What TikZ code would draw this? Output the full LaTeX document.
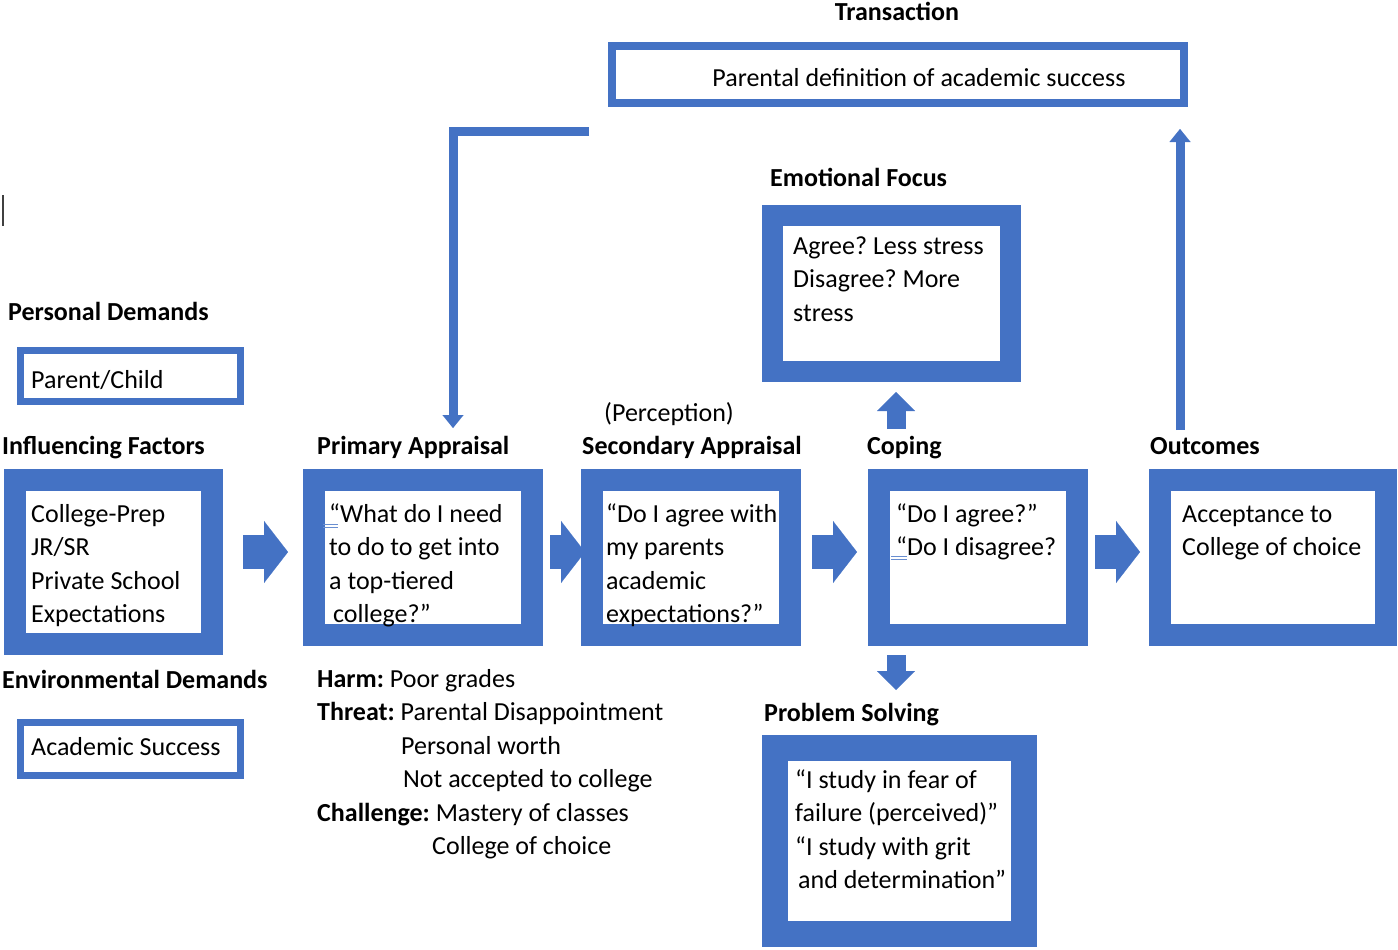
\documentclass[tikz,border=0pt]{standalone}
\usepackage{fontspec}
\setmainfont{Carlito}
\usetikzlibrary{arrows.meta}
\definecolor{officeblue}{HTML}{4472C4}
\newcommand{\textlines}[1]{\begin{tabular}[t]{@{}l@{}}#1\end{tabular}}
\frenchspacing

\begin{document}
\begin{tikzpicture}[x=1pt,y=-1pt,
  every node/.style={font=\fontsize{26pt}{33.5pt}\selectfont},
  panel/.style={draw=officeblue,fill=white,inner sep=0pt},
  head/.style={anchor=base west,inner sep=0pt,font=\fontsize{26pt}{33.5pt}\selectfont\bfseries},
  txt/.style={anchor=base west,inner sep=0pt},
  blockarrow/.style={draw=officeblue,line width=34pt,-{Triangle[length=24pt,width=62pt,line width=0.1pt]}},
  smallblock/.style={draw=officeblue,line width=19pt,-{Triangle[length=19pt,width=38pt,line width=0.1pt]}},
  thinarrow/.style={draw=officeblue,line width=9pt,-{Triangle[length=13pt,width=21pt,line width=0.1pt]}}]
\useasboundingbox (0,0) rectangle (1398,950);

% panels
\node[panel,line width=8pt,minimum width=572pt,minimum height=57pt] (trans) at (898,74.5) {};
\node[panel,line width=21pt,minimum width=238pt,minimum height=156pt] (ef) at (891.5,293.5) {};
\node[panel,line width=7pt,minimum width=220pt,minimum height=51pt] (pc) at (130.5,376) {};
\node[panel,line width=22pt,minimum width=197pt,minimum height=164pt] (inf) at (113.5,562) {};
\node[panel,line width=7pt,minimum width=220pt,minimum height=53pt] (acad) at (130.5,749) {};
\node[panel,line width=22pt,minimum width=218pt,minimum height=155pt] (pa) at (423,557.5) {};
\node[panel,line width=22pt,minimum width=198pt,minimum height=155pt] (sa) at (691,557.5) {};
\node[panel,line width=22pt,minimum width=198pt,minimum height=155pt] (cop) at (978,557.5) {};
\node[panel,line width=22pt,minimum width=226pt,minimum height=155pt] (out) at (1273,557.5) {};
\node[panel,line width=26pt,minimum width=249pt,minimum height=186pt] (ps) at (899.5,841) {};

% headings
\node[head,anchor=base] (trans-h) at (897,21) {Transaction};
\node[head] (ef-h) at (770,186) {Emotional Focus};
\node[head] (pc-h) at (8,320) {Personal Demands};
\node[head] (inf-h) at (2,454) {Influencing Factors};
\node[head] (acad-h) at (2,688) {Environmental Demands};
\node[head] (pa-h) at (317,454) {Primary Appraisal};
\node[txt] (perc) at (604,421) {(Perception)};
\node[head] (sa-h) at (582,454) {Secondary Appraisal};
\node[head] (cop-h) at (867,454) {Coping};
\node[head] (out-h) at (1150,454) {Outcomes};
\node[head] (ps-h) at (764,721) {Problem Solving};

% texts
\node[anchor=base,inner sep=0pt] (trans-t) at (919,86) {Parental definition of academic success};
\node[txt] (ef-t) at (793,254) {\textlines{Agree? Less stress\\Disagree? More\\stress}};
\node[txt] (pc-t) at (31,388) {Parent/Child};
\node[txt] (inf-t) at (31,522) {\textlines{College-Prep\\JR/SR\\Private School\\Expectations}};
\node[txt] (acad-t) at (31,755) {Academic Success};
\node[txt] (pa-t) at (329,522) {\textlines{“What do I need\\to do to get into\\a top-tiered\\\hspace*{4pt}college?”}};
\node[txt] (sa-t) at (606,522) {\textlines{“Do I agree with\\my parents\\academic\\expectations?”}};
\node[txt] (cop-t) at (896,522) {\textlines{“Do I agree?”\\“Do I disagree?}};
\node[txt] (out-t) at (1182,522) {\textlines{Acceptance to\\College of choice}};
\node[txt] (ps-t) at (795,788) {\textlines{“I study in fear of\\failure (perceived)”\\“I study with grit\\\hspace*{3pt}and determination”}};
\node[txt] (threats) at (317,687) {\textlines{\textbf{Harm:} Poor grades\\\textbf{Threat:} Parental Disappointment\\\hspace*{84pt}Personal worth\\\hspace*{86pt}Not accepted to college\\\textbf{Challenge:} Mastery of classes\\\hspace*{115pt}College of choice}};

% block arrows
\draw[blockarrow] ([xshift=20pt,yshift=10pt]inf.east) -- ([xshift=-15pt,yshift=5.5pt]pa.west);
\draw[blockarrow] ([xshift=7pt,yshift=5.5pt]pa.east) -- ([xshift=4pt,yshift=5.5pt]sa.west);
\draw[blockarrow] ([xshift=11pt,yshift=5.5pt]sa.east) -- ([xshift=-11pt,yshift=5.5pt]cop.west);
\draw[blockarrow] ([xshift=7pt,yshift=5.5pt]cop.east) -- ([xshift=-9pt,yshift=5.5pt]out.west);
\draw[smallblock] ([xshift=-82pt,yshift=40pt]cop.north) -- ([xshift=4.5pt,yshift=-10pt]ef.south);
\draw[smallblock] ([xshift=-82pt,yshift=-9pt]cop.south) -- ([xshift=-3.5pt,yshift=45pt]ps.north);

% feedback lines
\coordinate (fbstart) at (589,131);
\draw[thinarrow] (fbstart) -| ([xshift=30pt,yshift=41pt]pa.north);
\draw[thinarrow] ([xshift=-93pt,yshift=39pt]out.north) -- ([xshift=282pt,yshift=-22pt]trans.south);

% stray marks
\draw[black!75,line width=2pt] (3,195) -- (3,226);
\draw[officeblue!80,line width=0.8pt] (323,524.5) -- (338,524.5) (323,527.5) -- (338,527.5);
\draw[officeblue!80,line width=0.8pt] (891,556) -- (907,556) (891,559) -- (907,559);
\end{tikzpicture}
\end{document}
